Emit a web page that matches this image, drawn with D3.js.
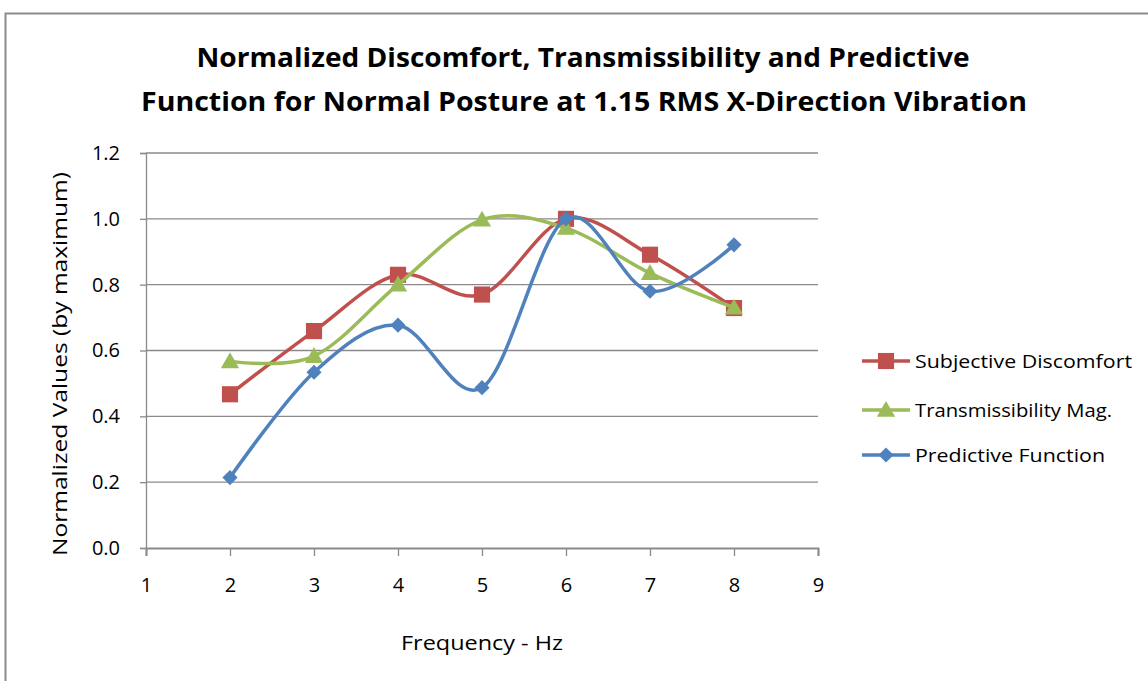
<!DOCTYPE html>
<html>
<head>
<meta charset="utf-8">
<script src="https://cdn.jsdelivr.net/npm/d3@7"></script>
<style>
  body { margin: 0; background: #fff; }
  svg text { font-family: "Open Sans", "Liberation Sans", sans-serif; fill: #000; }
</style>
</head>
<body>
<svg id="chart" width="1148" height="681"></svg>
<script>
// data
const freqs = [2, 3, 4, 5, 6, 7, 8];
const discomfort = [0.467, 0.659, 0.830, 0.770, 1.000, 0.891, 0.729];
const transmiss = [0.567, 0.583, 0.800, 0.997, 0.972, 0.835, 0.730];
const predictive = [0.214, 0.534, 0.677, 0.487, 1.000, 0.780, 0.921];
const yTicks = [0, 0.2, 0.4, 0.6, 0.8, 1.0, 1.2];
const xTicks = [1, 2, 3, 4, 5, 6, 7, 8, 9];
const seriesNames = ["Subjective Discomfort", "Transmissibility Mag.", "Predictive Function"];
const colors = ["#C0504D", "#9BBB59", "#4F81BD"];

const svg = d3.select("#chart");
const L = 146, R = 818, T = 153, B = 548;

// chart frame
svg.append("rect").attr("x", 5.5).attr("y", 13.5).attr("width", 1200).attr("height", 720)
  .attr("fill", "none").attr("stroke", "#8c8c8c").attr("stroke-width", 2);

const x = d3.scaleLinear().domain([1, 9]).range([L, R]);
const y = d3.scaleLinear().domain([0, 1.2]).range([B, T]);

// gridlines
svg.append("g").selectAll("line").data(yTicks.slice(1)).join("line")
  .attr("x1", L).attr("x2", R).attr("y1", d => y(d)).attr("y2", d => y(d))
  .attr("stroke", "#8a8a8a").attr("stroke-width", 1.3);

// y axis
const yAx = svg.append("g").attr("transform", `translate(${L},0)`)
  .call(d3.axisLeft(y).tickValues(yTicks).tickFormat(d3.format(".1f")).tickSize(6).tickPadding(20));
yAx.select(".domain").attr("stroke", "#8a8a8a").attr("stroke-width", 1.3);
yAx.selectAll(".tick line").attr("stroke", "#8a8a8a").attr("stroke-width", 1.3);
yAx.selectAll("text").style("font-size", "20px").attr("font-family", "Open Sans");

// x axis
const xAx = svg.append("g").attr("transform", `translate(0,${B})`)
  .call(d3.axisBottom(x).tickValues(xTicks).tickFormat(d3.format("d")).tickSize(8).tickPadding(22));
xAx.select(".domain").attr("stroke", "#8a8a8a").attr("stroke-width", 2);
xAx.selectAll(".tick line").attr("stroke", "#8a8a8a").attr("stroke-width", 1.3);
xAx.selectAll("text").style("font-size", "20px").attr("font-family", "Open Sans");

// markers
function marker(sel, i) {
  if (i === 0) sel.attr("d", d3.symbol().type(d3.symbolSquare).size(260)());
  else if (i === 1) sel.attr("d", d3.symbol().type(d3.symbolTriangle).size(145)());
  else sel.attr("d", d3.symbol().type(d3.symbolSquare).size(115)());
}
function markerPos(px, py, i) {
  if (i === 1) return `translate(${px},${py + 1.5})`;
  if (i === 2) return `translate(${px},${py}) rotate(45)`;
  return `translate(${px},${py})`;
}

// series
const allSeries = [discomfort, transmiss, predictive];
const line = d3.line().x(d => x(d[0])).y(d => y(d[1])).curve(d3.curveCardinal.tension(0));

allSeries.forEach((vals, i) => {
  const pts = freqs.map((f, j) => [f, vals[j]]);
  const g = svg.append("g");
  g.append("path").datum(pts).attr("d", line)
    .attr("fill", "none").attr("stroke", colors[i]).attr("stroke-width", 3.5);
  g.selectAll("path.m").data(pts).join("path").attr("class", "m")
    .attr("transform", d => markerPos(x(d[0]), y(d[1]), i))
    .call(marker, i)
    .attr("fill", colors[i]);
});

// title
svg.append("text").attr("x", 583).attr("y", 67).attr("text-anchor", "middle")
  .attr("textLength", 773).attr("lengthAdjust", "spacingAndGlyphs")
  .style("font-size", "27px").style("font-weight", "bold").text("Normalized Discomfort, Transmissibility and Predictive");
svg.append("text").attr("x", 584).attr("y", 111).attr("text-anchor", "middle")
  .attr("textLength", 886).attr("lengthAdjust", "spacingAndGlyphs")
  .style("font-size", "27px").style("font-weight", "bold").text("Function for Normal Posture at 1.15 RMS X-Direction Vibration");

// axis titles
svg.append("text").attr("transform", "translate(67,364) rotate(-90)").attr("text-anchor", "middle")
  .attr("textLength", 384).attr("lengthAdjust", "spacingAndGlyphs")
  .style("font-size", "20px").text("Normalized Values (by maximum)");
svg.append("text").attr("x", 482).attr("y", 650).attr("text-anchor", "middle")
  .attr("textLength", 162).attr("lengthAdjust", "spacingAndGlyphs")
  .style("font-size", "20px").text("Frequency - Hz");

// legend
const legY = [361, 410, 455];
const legW = [217, 197, 190];
const lg = svg.append("g");
seriesNames.forEach((name, i) => {
  lg.append("line").attr("x1", 862).attr("x2", 910).attr("y1", legY[i]).attr("y2", legY[i])
    .attr("stroke", colors[i]).attr("stroke-width", 3.5);
  lg.append("path").attr("transform", markerPos(886, legY[i], i))
    .call(marker, i).attr("fill", colors[i]);
  lg.append("text").attr("x", 915).attr("y", legY[i] + 7)
    .attr("textLength", legW[i]).attr("lengthAdjust", "spacingAndGlyphs")
    .style("font-size", "19px").text(name);
});
</script>
</body>
</html>
